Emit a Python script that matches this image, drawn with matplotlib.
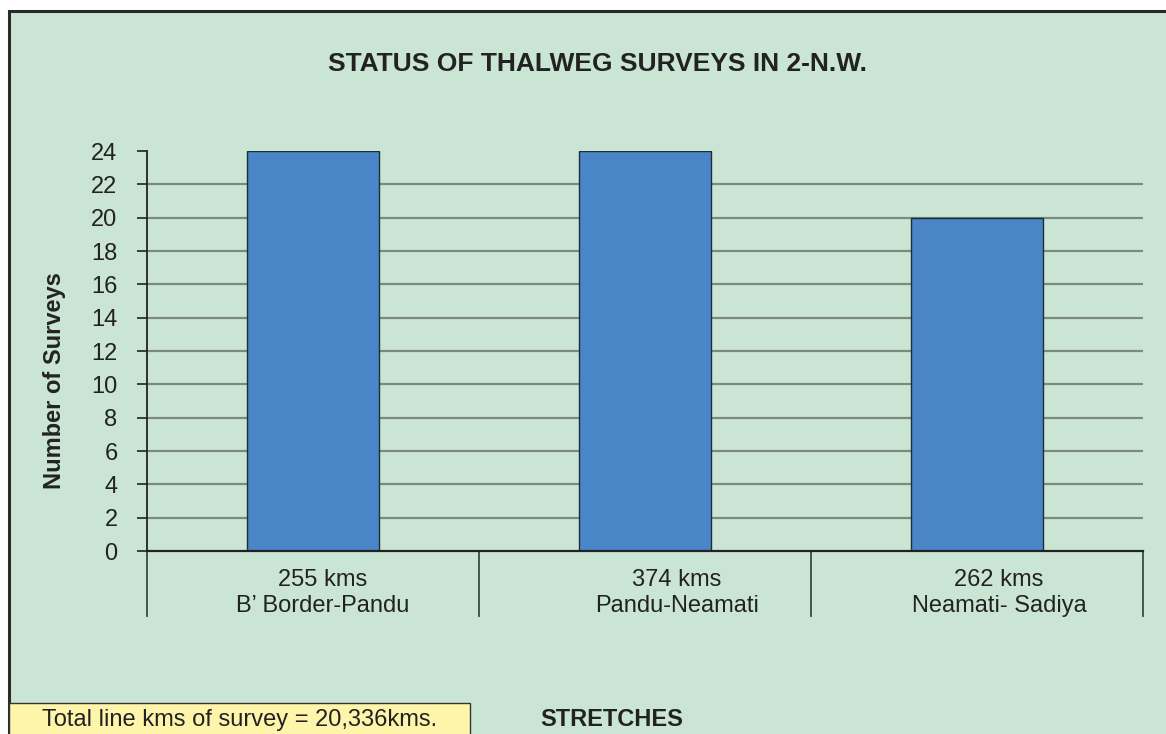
import matplotlib
matplotlib.use("Agg")
import matplotlib.pyplot as plt
from matplotlib.patches import Rectangle
from matplotlib.lines import Line2D
import matplotlib.transforms as mtransforms

plt.rcParams['font.family'] = ['Liberation Sans', 'DejaVu Sans']

# ---- data ----
stretches = ["B\u2019 Border-Pandu", "Pandu-Neamati", "Neamati- Sadiya"]
lengths = ["255 kms", "374 kms", "262 kms"]
surveys = [24, 24, 20]
yticks = list(range(0, 25, 2))
title = "STATUS OF THALWEG SURVEYS IN 2-N.W."
ylabel = "Number of Surveys"
xlabel = "STRETCHES"
note = "Total line kms of survey = 20,336kms."

W, H = 1166, 734
BG = "#cbe5d5"
fig = plt.figure(figsize=(W / 100, H / 100), dpi=100, facecolor="white")

# outer frame (green panel with dark border, cut off at right/bottom)
fig.patches.append(Rectangle((9 / W, -0.05), 1.2, 1 - 11 / H + 0.05,
                             transform=fig.transFigure, facecolor=BG,
                             edgecolor="#2a2a2a", linewidth=2.2, zorder=-10))

ax = fig.add_axes([147 / W, 1 - 551 / H, (1143 - 147) / W, (551 - 151) / H])
ax.set_zorder(2)
ax.set_facecolor("none")
x = list(range(len(surveys)))
ax.bar(x, surveys, width=0.40, color="#4a86c7", edgecolor="#1f2b38",
       linewidth=1.0, zorder=3)
ax.set_xlim(-0.5, len(surveys) - 0.5)
ax.set_ylim(0, 24)

for v in yticks:
    if 0 < v < 24:
        ax.axhline(v, color="#7b8a80", linewidth=1.6, zorder=1)

for s in ["top", "right"]:
    ax.spines[s].set_visible(False)
ax.spines["left"].set_color("#222222")
ax.spines["bottom"].set_color("#222222")
ax.spines["left"].set_linewidth(1.3)
ax.spines["bottom"].set_linewidth(1.6)
ax.spines["bottom"].set_zorder(4)

ax.set_yticks(yticks)
ax.set_yticklabels([str(v) for v in yticks])
ax.tick_params(axis="y", direction="out", length=7.2, width=1.2,
               color="#222222", pad=14, labelsize=17, labelcolor="#222222")
ax.set_xticks([])

# category separators below the axis
trans = mtransforms.blended_transform_factory(ax.transData, ax.transAxes)
for sx in [-0.5 + i for i in range(len(surveys) + 1)]:
    ax.add_line(Line2D([sx, sx], [0, -65 / 400], transform=trans,
                       color="#3a4a40", linewidth=1.3, clip_on=False))

# category labels
offsets = [0.03, 0.096, 0.066]
for i, (ln, st) in enumerate(zip(lengths, stretches)):
    ax.text(i + offsets[i], -29 / 400, ln, transform=trans, ha="center",
            va="center", fontsize=17, color="#222222")
    ax.text(i + offsets[i], -55 / 400, st, transform=trans, ha="center",
            va="center", fontsize=17, color="#222222")

fig.text(597 / W, 1 - 64 / H, title, ha="center", va="center",
         fontsize=19, fontweight="bold", color="#222222")
fig.text(55 / W, 1 - 381 / H, ylabel, ha="center", va="center",
         rotation=90, fontsize=17, fontweight="bold", color="#222222")
fig.text(612 / W, 1 - 720 / H, xlabel, ha="center", va="center",
         fontsize=17, fontweight="bold", color="#222222")

# yellow note box
fig.patches.append(Rectangle((9 / W, -0.05), (470 - 9) / W, (734 - 703) / H + 0.05,
                             transform=fig.transFigure, facecolor="#fff5aa",
                             edgecolor="#333333", linewidth=1.0, zorder=1))
fig.text(240 / W, 1 - 720 / H, note, ha="center", va="center",
         fontsize=17, color="#222222")

fig.savefig("out.png", dpi=100, facecolor="white")
